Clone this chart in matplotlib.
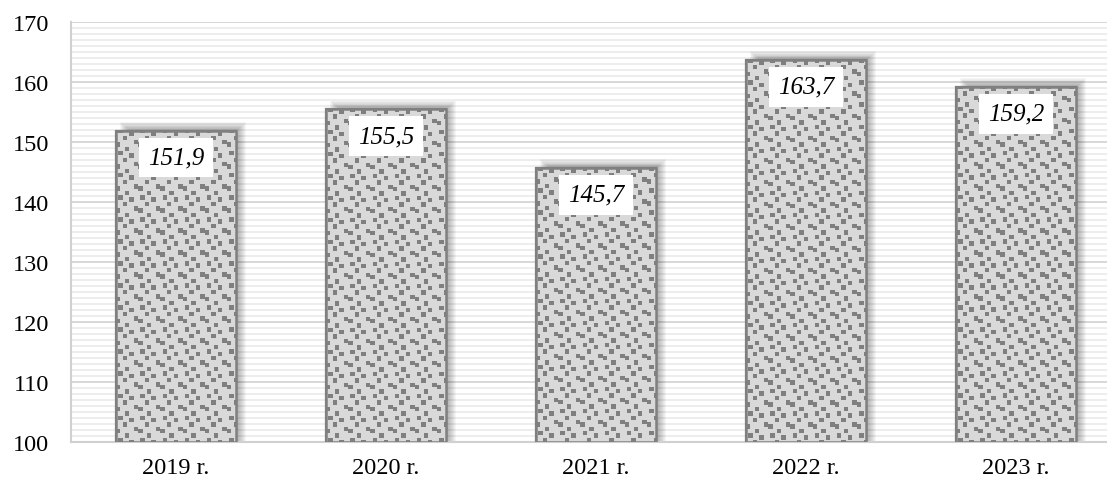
import numpy as np
import matplotlib
matplotlib.use("Agg")
import matplotlib.pyplot as plt
from matplotlib.patches import Rectangle

categories = ["2019 r.", "2020 r.", "2021 r.", "2022 r.", "2023 r."]
values = [151.9, 155.5, 145.7, 163.7, 159.2]
labels = ["151,9", "155,5", "145,7", "163,7", "159,2"]
y_ticks = [100, 110, 120, 130, 140, 150, 160, 170]

# fixed confetti-like tile: 10x10 cells, dark squares 2x2 cells
TILE = np.zeros((10, 10), dtype=int)
for r, c in [(0, 1), (1, 6), (3, 3), (5, 8), (6, 0), (8, 4)]:
    TILE[r:r + 2, c:c + 2] = 1

CELL_PX = 2.2
FONT = "Liberation Serif"

fig = plt.figure(figsize=(11.07, 4.85), dpi=100)
# plot area extends slightly past the right edge of the image, as in the reference
ax = fig.add_axes([71 / 1107, 42 / 485, 1050 / 1107, 420 / 485])
ax.set_ylim(100, 170)
ax.set_xlim(-0.5, len(categories) - 0.5)

# striped background
for v in np.arange(100, 171, 1):
    if v % 10 == 0:
        ax.axhline(v, color="#d4d4d4", lw=1.3, zorder=0)
    else:
        ax.axhline(v, color="#ececec", lw=1.3, zorder=0)

for s in ["top", "right"]:
    ax.spines[s].set_visible(False)
for s in ["left", "bottom"]:
    ax.spines[s].set_color("#d0d0d0")
    ax.spines[s].set_linewidth(1.5)

x = np.arange(len(categories))
bw = 0.567
bars = ax.bar(x, [v - 100 for v in values], bottom=100, width=bw,
              color="#d9d9d9", edgecolor="#7f7f7f", linewidth=1.6, zorder=3)

fig.canvas.draw()
trans = ax.transData
px_y = abs(trans.transform((0, 101))[1] - trans.transform((0, 100))[1])
px_x = abs(trans.transform((1, 100))[0] - trans.transform((0, 100))[0])

cmap = matplotlib.colors.ListedColormap(["#d9d9d9", "#7f7f7f"])
for xi, v, lbl, b in zip(x, values, labels, bars):
    x0, x1 = xi - bw / 2, xi + bw / 2
    # soft shadow (to the right and above)
    for k in range(1, 11):
        ax.add_patch(Rectangle((x0 + (14 - k) / px_x, 100),
                               bw + (2 * k - 14) / px_x, v - 100 + k * 0.85 / px_y,
                               facecolor="#000000", alpha=0.035, lw=0, zorder=2))
    wpx = bw * px_x
    hpx = (v - 100) * px_y
    nx = int(wpx / CELL_PX) + 1
    ny = int(hpx / CELL_PX) + 1
    tex = np.tile(TILE, (ny // TILE.shape[0] + 1, nx // TILE.shape[1] + 1))[:ny, :nx]
    y_top_ext = 100 + ny * CELL_PX / px_y
    im = ax.imshow(tex, extent=(x0, x0 + nx * CELL_PX / px_x, 100, y_top_ext),
                   origin="upper", cmap=cmap, vmin=0, vmax=1,
                   interpolation="nearest", aspect="auto", zorder=3.5)
    im.set_clip_path(b)
    ax.add_patch(Rectangle((x0, 100), bw, v - 100, facecolor="none",
                           edgecolor="#808080", lw=1.8, zorder=4))
    ax.text(xi, v - 4.5, lbl, ha="center", va="center", fontsize=18,
            style="italic", family=FONT, zorder=6,
            bbox=dict(boxstyle="square,pad=0.35", facecolor="white", edgecolor="none"))

ax.set_aspect("auto")
ax.set_xlim(-0.5, len(categories) - 0.5)
ax.set_ylim(100, 170)
ax.set_yticks(y_ticks)
ax.set_yticklabels([str(t) for t in y_ticks], family=FONT, fontsize=17.5)
ax.set_xticks(x)
ax.set_xticklabels(categories, family=FONT, fontsize=17.5)
ax.tick_params(axis="both", length=0)
ax.tick_params(axis="y", pad=16)
ax.tick_params(axis="x", pad=11)

fig.savefig("out.png", dpi=100)
